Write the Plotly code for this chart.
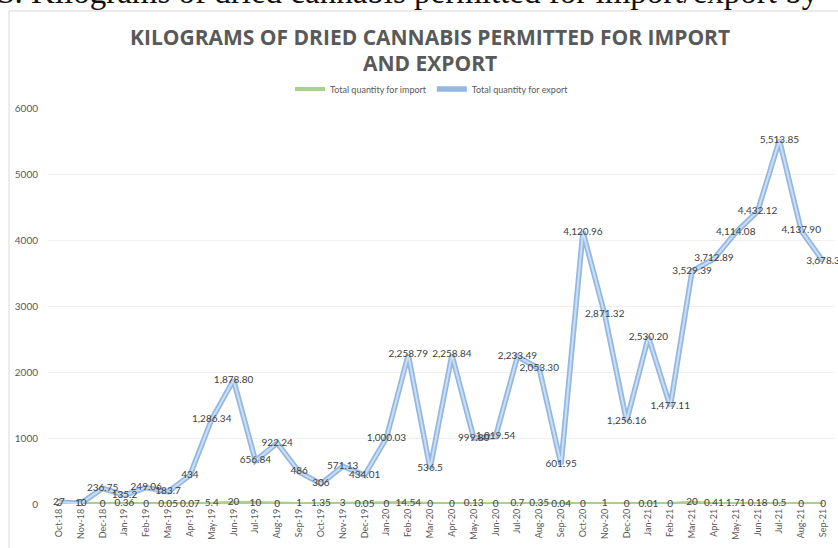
import plotly.graph_objects as go

months = ["Oct-18", "Nov-18", "Dec-18", "Jan-19", "Feb-19", "Mar-19", "Apr-19", "May-19",
          "Jun-19", "Jul-19", "Aug-19", "Sep-19", "Oct-19", "Nov-19", "Dec-19", "Jan-20",
          "Feb-20", "Mar-20", "Apr-20", "May-20", "Jun-20", "Jul-20", "Aug-20", "Sep-20",
          "Oct-20", "Nov-20", "Dec-20", "Jan-21", "Feb-21", "Mar-21", "Apr-21", "May-21",
          "Jun-21", "Jul-21", "Aug-21", "Sep-21"]

export_kg = [27, 10, 236.75, 135.2, 249.06, 183.7, 434, 1286.34,
             1878.80, 656.84, 922.24, 486, 306, 571.13, 434.01, 1000.03,
             2258.79, 536.5, 2258.84, 999.80, 1019.54, 2233.49, 2053.30, 601.95,
             4120.96, 2871.32, 1256.16, 2530.20, 1477.11, 3529.39, 3712.89, 4114.08,
             4432.12, 5513.85, 4137.90, 3678.3]
export_lbl = ["27", "10", "236.75", "135.2", "249.06", "183.7", "434", "1,286.34",
              "1,878.80", "656.84", "922.24", "486", "306", "571.13", "434.01", "1,000.03",
              "2,258.79", "536.5", "2,258.84", "999.80", "1,019.54", "2,233.49", "2,053.30", "601.95",
              "4,120.96", "2,871.32", "1,256.16", "2,530.20", "1,477.11", "3,529.39", "3,712.89", "4,114.08",
              "4,432.12", "5,513.85", "4,137.90", "3,678.3"]

import_kg = [2, 5, 0, 0.36, 0, 0.05, 0.07, 5.4,
             20, 10, 0, 1, 1.35, 3, 0.05, 0,
             14.54, 0, 0, 0.13, 0, 0.7, 0.35, 0.04,
             0, 1, 0, 0.01, 0, 20, 0.41, 1.71,
             0.18, 0.5, 0, 0]
import_lbl = ["2", "5", "0", "0.36", "0", "0.05", "0.07", "5.4",
              "20", "10", "0", "1", "1.35", "3", "0.05", "0",
              "14.54", "0", "0", "0.13", "0", "0.7", "0.35", "0.04",
              "0", "1", "0", "0.01", "0", "20", "0.41", "1.71",
              "0.18", "0.5", "0", "0"]

W, H = 838, 548
L, R, T, B = 48, 4, 108, 44
pw, ph = W - L - R, H - T - B

def px(x):
    return (x - L) / pw

def py(y):
    return (H - B - y) / ph

lbl_font = dict(family="Lato, Open Sans, sans-serif", size=10, color="#404040")

fig = go.Figure()

fig.add_trace(go.Scatter(
    x=months, y=import_kg, mode="lines+text", name="Total quantity for import",
    line=dict(color="#A9D18E", width=4), text=import_lbl, textposition="middle center",
    textfont=lbl_font, cliponaxis=False))

fig.add_trace(go.Scatter(
    x=months, y=export_kg, mode="lines", name="Total quantity for export",
    line=dict(color="#94B8E2", width=5.5), cliponaxis=False, showlegend=True))

fig.add_trace(go.Scatter(
    x=months, y=export_kg, mode="lines+text", name="export inner",
    line=dict(color="#CADFF3", width=2), text=export_lbl, textposition="middle center",
    textfont=lbl_font, cliponaxis=False, showlegend=False))

title_font = dict(family="Open Sans, sans-serif", size=21, color="#595959", weight="bold")

fig.update_layout(
    width=W, height=H,
    margin=dict(l=L, r=R, t=T, b=B, autoexpand=False),
    paper_bgcolor="white", plot_bgcolor="white",
    showlegend=True,
    legend=dict(orientation="h", x=px(432), xanchor="center", y=py(89), yanchor="middle",
                font=dict(family="Lato, Open Sans, sans-serif", size=9, color="#595959"),
                itemwidth=30, tracegroupgap=0, bgcolor="rgba(0,0,0,0)"),
    xaxis=dict(type="category", range=[-0.5, 35.5], showgrid=False, showline=False,
               zeroline=False, ticks="", tickangle=-90, ticklabelstandoff=2,
               tickfont=dict(family="Lato, Open Sans, sans-serif", size=9, color="#595959")),
    yaxis=dict(range=[0, 6000], dtick=1000, showgrid=True, gridcolor="#EFEFEF", gridwidth=1,
               zeroline=False, showline=False, ticks="", ticklabelstandoff=9,
               tickfont=dict(family="Lato, Open Sans, sans-serif", size=10, color="#595959")),
    annotations=[
        dict(text="KILOGRAMS OF DRIED CANNABIS PERMITTED FOR IMPORT", xref="paper", yref="paper",
             x=px(430), y=py(37), xanchor="center", yanchor="middle", showarrow=False,
             font=title_font),
        dict(text="AND EXPORT", xref="paper", yref="paper",
             x=px(430), y=py(63), xanchor="center", yanchor="middle", showarrow=False,
             font=title_font),
        dict(text="3. Kilograms of dried cannabis permitted for import/export by", xref="paper", yref="paper",
             x=px(-4), y=py(12), xanchor="left", yanchor="bottom", showarrow=False,
             font=dict(family="Liberation Serif, serif", size=33, color="#111111")),
    ],
    shapes=[
        dict(type="rect", xref="paper", yref="paper", x0=px(9), x1=px(850), y0=py(560), y1=py(11),
             line=dict(color="#D9D9D9", width=1), fillcolor="rgba(0,0,0,0)", layer="below"),
    ],
)

fig.write_html("out.html")
